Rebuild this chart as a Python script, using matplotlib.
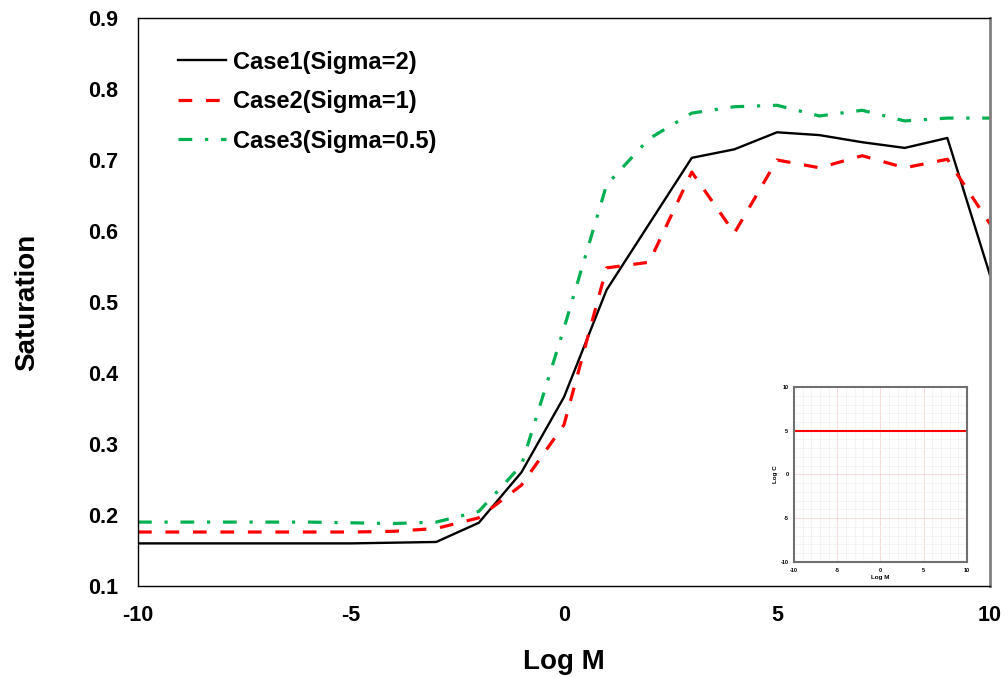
import matplotlib
matplotlib.use("Agg")
import matplotlib.pyplot as plt
import numpy as np

plt.rcParams['font.family'] = ['Liberation Sans', 'DejaVu Sans']
plt.rcParams['font.weight'] = 'bold'
plt.rcParams['axes.unicode_minus'] = False

log_m = [-10, -9, -8, -7, -6, -5, -4, -3, -2, -1, 0, 1, 2, 3, 4, 5, 6, 7, 8, 9, 10]
case1 = [0.160, 0.160, 0.160, 0.160, 0.160, 0.160, 0.161, 0.162, 0.189, 0.260, 0.366, 0.517, 0.610,
         0.703, 0.715, 0.739, 0.735, 0.725, 0.717, 0.731, 0.538]
case2 = [0.176, 0.176, 0.176, 0.176, 0.176, 0.176, 0.177, 0.181, 0.196, 0.242, 0.327, 0.548, 0.556,
         0.683, 0.597, 0.700, 0.689, 0.706, 0.689, 0.701, 0.610]
case3 = [0.190, 0.190, 0.190, 0.190, 0.190, 0.189, 0.188, 0.190, 0.205, 0.270, 0.463, 0.665, 0.730,
         0.766, 0.775, 0.777, 0.762, 0.770, 0.755, 0.759, 0.759]
labels = ["Case1(Sigma=2)", "Case2(Sigma=1)", "Case3(Sigma=0.5)"]

inset_x = [-10, 10]
inset_y = [5, 5]

fig = plt.figure(figsize=(10.08, 6.78), dpi=100)
ax = fig.add_axes([0.1369, 0.1357, 0.8452, 0.8378])

ax.plot(log_m, case1, color='black', lw=1.7, label=labels[0])
ax.plot(log_m, case2, color='#ff0000', lw=2.3, linestyle=(0, (4.3, 4.3)), label=labels[1])
ax.plot(log_m, case3, color='#00b050', lw=2.3, linestyle=(0, (4.3, 4.0, 1.0, 4.0)), label=labels[2])

ax.set_xlim(-10, 10)
ax.set_ylim(0.1, 0.9)
ax.set_xticks([-10, -5, 0, 5, 10])
ax.set_yticks(np.round(np.arange(0.1, 0.91, 0.1), 1))
ax.set_yticklabels([f"{v:.1f}" for v in np.arange(0.1, 0.91, 0.1)])
ax.tick_params(axis='y', length=0, labelsize=15.5, pad=14.5)
ax.tick_params(axis='x', length=0, labelsize=15.5, pad=13.5)
for lab in ax.get_xticklabels() + ax.get_yticklabels():
    lab.set_fontweight('bold')
ax.set_xlabel("Log M", fontsize=20, fontweight='bold', labelpad=17)
ax.set_ylabel("Saturation", fontsize=20, fontweight='bold', labelpad=34.5)
for s in ['left', 'bottom', 'top']:
    ax.spines[s].set_color('black')
    ax.spines[s].set_linewidth(1.0)
ax.spines['right'].set_color('#808080')
ax.spines['right'].set_linewidth(2.0)

leg = ax.legend(loc='upper left', bbox_to_anchor=(0.022, 0.98), frameon=False,
                prop={'size': 17, 'weight': 'bold'}, handlelength=2.05, handletextpad=0.3,
                labelspacing=0.7)

# inset
axi = fig.add_axes([0.7877, 0.1711, 0.1716, 0.2581])
axi.plot(inset_x, inset_y, color='#ff0000', lw=1.5)
axi.set_xlim(-10, 10)
axi.set_ylim(-10, 10)
axi.set_xticks([-10, -5, 0, 5, 10])
axi.set_yticks([-10, -5, 0, 5, 10])
axi.set_xticks(np.arange(-10, 11, 1), minor=True)
axi.set_yticks(np.arange(-10, 11, 1), minor=True)
axi.grid(which='minor', color='#f0f0f0', lw=0.5)
axi.grid(which='major', color='#f6d6d6', lw=0.6)
axi.set_axisbelow(True)
axi.tick_params(axis='both', which='both', length=0, labelsize=4, pad=4)
for lab in axi.get_xticklabels() + axi.get_yticklabels():
    lab.set_fontweight('bold')
axi.set_xlabel("Log M", fontsize=4.5, fontweight='bold', labelpad=2)
axi.set_ylabel("Log C", fontsize=4.5, fontweight='bold', labelpad=2)
for s in axi.spines.values():
    s.set_color('#707070')
    s.set_linewidth(1.5)

fig.savefig("out.png", dpi=100)
